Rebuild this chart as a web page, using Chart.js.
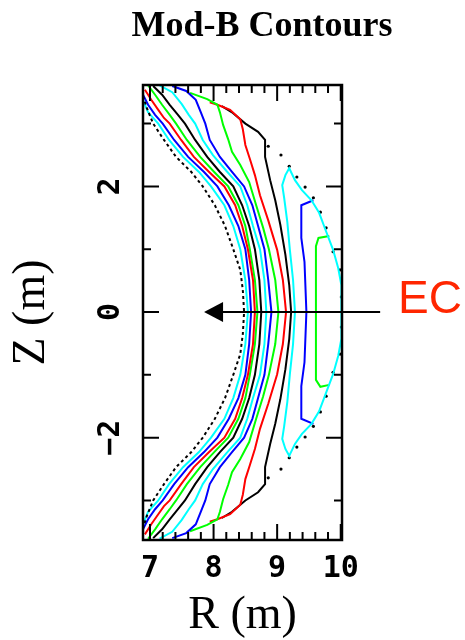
<!DOCTYPE html>
<html><head><meta charset="utf-8">
<script src="https://cdn.jsdelivr.net/npm/chart.js@4/dist/chart.umd.min.js"></script>
<style>html,body{margin:0;padding:0;background:#fff}canvas{display:block}</style>
</head><body>
<canvas id="c" width="465" height="640"></canvas>
<script>
// ---- tick values ----
const xTickValues = [7, 8, 9, 10];
const yTickValues = [-2, 0, 2];
const xMinorTicks = [7.0,7.2,7.4,7.6,7.8,8.0,8.2,8.4,8.6,8.8,9.0,9.2,9.4,9.6,9.8,10.0];
const yMinorTicks = [-3,-2,-1,0,1,2,3];

// ---- contour lines (R, Z) in metres ----
const innerBoundary = [[6.89,3.44],[6.95,3.25],[7.05,3.0],[7.22,2.74],[7.41,2.47],[7.65,2.23],[7.83,2.0],[8.02,1.70],[8.18,1.37],[8.31,1.0],[8.42,0.67],[8.46,0.35],[8.48,0],[8.46,-0.35],[8.42,-0.67],[8.31,-1.0],[8.18,-1.37],[8.02,-1.70],[7.83,-2.0],[7.65,-2.23],[7.41,-2.47],[7.22,-2.74],[7.05,-3.0],[6.95,-3.25],[6.89,-3.44]];
const cyan1 = [[6.89,3.38],[6.97,3.18],[7.13,3.0],[7.30,2.74],[7.52,2.47],[7.77,2.23],[7.96,2.0],[8.17,1.70],[8.31,1.37],[8.42,1.0],[8.50,0.51],[8.54,0],[8.50,-0.51],[8.42,-1.0],[8.31,-1.37],[8.17,-1.70],[7.96,-2.0],[7.77,-2.23],[7.52,-2.47],[7.30,-2.74],[7.13,-3.0],[6.97,-3.18],[6.89,-3.38]];
const blue1 = [[6.89,3.46],[6.97,3.30],[7.08,3.14],[7.20,3.0],[7.38,2.74],[7.60,2.47],[7.85,2.23],[8.06,2.0],[8.24,1.70],[8.39,1.37],[8.50,1.0],[8.56,0.51],[8.59,0],[8.56,-0.51],[8.50,-1.0],[8.39,-1.37],[8.24,-1.70],[8.06,-2.0],[7.85,-2.23],[7.60,-2.47],[7.38,-2.74],[7.20,-3.0],[7.08,-3.14],[6.97,-3.30],[6.89,-3.46]];
const red1 = [[6.92,3.54],[7.02,3.38],[7.13,3.22],[7.22,3.09],[7.31,3.0],[7.49,2.74],[7.69,2.47],[7.93,2.23],[8.17,2.0],[8.34,1.70],[8.45,1.37],[8.54,1.0],[8.62,0.51],[8.65,0],[8.62,-0.51],[8.54,-1.0],[8.45,-1.37],[8.34,-1.70],[8.17,-2.0],[7.93,-2.23],[7.69,-2.47],[7.49,-2.74],[7.31,-3.0],[7.22,-3.09],[7.13,-3.22],[7.02,-3.38],[6.92,-3.54]];
const green1 = [[6.97,3.61],[7.08,3.46],[7.19,3.30],[7.31,3.14],[7.41,3.0],[7.58,2.74],[7.79,2.47],[8.01,2.23],[8.23,2.0],[8.39,1.70],[8.50,1.37],[8.57,1.0],[8.65,0.51],[8.69,0],[8.65,-0.51],[8.57,-1.0],[8.50,-1.37],[8.39,-1.70],[8.23,-2.0],[8.01,-2.23],[7.79,-2.47],[7.58,-2.74],[7.41,-3.0],[7.31,-3.14],[7.19,-3.30],[7.08,-3.46],[6.97,-3.61]];
const black1 = [[7.05,3.60],[7.19,3.46],[7.31,3.30],[7.44,3.14],[7.55,3.0],[7.71,2.74],[7.90,2.47],[8.10,2.23],[8.31,2.0],[8.45,1.70],[8.56,1.37],[8.65,1.0],[8.72,0.51],[8.75,0],[8.72,-0.51],[8.65,-1.0],[8.56,-1.37],[8.45,-1.70],[8.31,-2.0],[8.10,-2.23],[7.90,-2.47],[7.71,-2.74],[7.55,-3.0],[7.44,-3.14],[7.31,-3.30],[7.19,-3.46],[7.05,-3.60]];
const cyan2 = [[7.15,3.61],[7.35,3.50],[7.50,3.31],[7.61,3.14],[7.71,3.0],[7.83,2.74],[7.99,2.50],[8.20,2.25],[8.42,2.0],[8.53,1.70],[8.62,1.37],[8.73,1.0],[8.80,0.51],[8.83,0],[8.80,-0.51],[8.73,-1.0],[8.62,-1.37],[8.53,-1.70],[8.42,-2.0],[8.20,-2.25],[7.99,-2.50],[7.83,-2.74],[7.71,-3.0],[7.61,-3.14],[7.50,-3.31],[7.35,-3.50],[7.15,-3.61]];
const blue2 = [[7.35,3.60],[7.57,3.52],[7.72,3.38],[7.80,3.18],[7.87,3.0],[7.94,2.74],[8.10,2.47],[8.29,2.23],[8.48,2.0],[8.61,1.70],[8.70,1.37],[8.80,1.0],[8.86,0.51],[8.91,0],[8.86,-0.51],[8.80,-1.0],[8.70,-1.37],[8.61,-1.70],[8.48,-2.0],[8.29,-2.23],[8.10,-2.47],[7.94,-2.74],[7.87,-3.0],[7.80,-3.18],[7.72,-3.38],[7.57,-3.52],[7.35,-3.60]];
const green2 = [[7.63,3.49],[7.90,3.39],[8.06,3.30],[8.10,3.18],[8.15,2.98],[8.23,2.75],[8.29,2.55],[8.42,2.34],[8.56,2.07],[8.67,1.70],[8.78,1.34],[8.87,1.0],[8.97,0.51],[9.02,0],[8.97,-0.51],[8.87,-1.0],[8.78,-1.34],[8.67,-1.70],[8.56,-2.07],[8.42,-2.34],[8.29,-2.55],[8.23,-2.75],[8.15,-2.98],[8.10,-3.18],[8.06,-3.30],[7.90,-3.39],[7.63,-3.49]];
const red2 = [[7.94,3.34],[8.06,3.30],[8.26,3.22],[8.42,3.07],[8.46,2.91],[8.50,2.66],[8.57,2.44],[8.65,2.18],[8.73,1.86],[8.86,1.46],[9.00,0.99],[9.09,0.51],[9.14,0],[9.09,-0.51],[9.00,-0.99],[8.86,-1.46],[8.73,-1.86],[8.65,-2.18],[8.57,-2.44],[8.50,-2.66],[8.46,-2.91],[8.42,-3.07],[8.26,-3.22],[8.06,-3.30],[7.94,-3.34]];
const black2 = [[8.13,3.28],[8.29,3.18],[8.50,3.0],[8.70,2.87],[8.81,2.74],[8.81,2.47],[8.89,2.10],[8.97,1.78],[9.05,1.39],[9.13,0.91],[9.19,0.43],[9.22,0],[9.19,-0.43],[9.13,-0.91],[9.05,-1.39],[8.97,-1.78],[8.89,-2.10],[8.81,-2.47],[8.81,-2.74],[8.70,-2.87],[8.50,-3.0],[8.29,-3.18],[8.13,-3.28]];
const cyan3 = [[10.01,0],[10.01,0.43],[9.96,0.70],[9.88,0.99],[9.76,1.31],[9.66,1.58],[9.54,1.78],[9.39,1.94],[9.28,2.10],[9.19,2.29],[9.13,2.18],[9.08,2.02],[9.11,1.82],[9.16,1.43],[9.20,0.99],[9.25,0.51],[9.28,0],[9.25,-0.51],[9.20,-0.99],[9.16,-1.43],[9.11,-1.82],[9.08,-2.02],[9.13,-2.18],[9.19,-2.29],[9.28,-2.10],[9.39,-1.94],[9.54,-1.78],[9.66,-1.58],[9.76,-1.31],[9.88,-0.99],[9.96,-0.70],[10.01,-0.43],[10.01,0]];
const blue3 = [[9.57,1.78],[9.38,1.70],[9.38,1.18],[9.43,0.80],[9.46,0],[9.43,-0.80],[9.38,-1.18],[9.38,-1.70],[9.57,-1.78]];
const green3 = [[9.82,1.21],[9.65,1.18],[9.61,1.05],[9.61,0],[9.61,-1.08],[9.68,-1.19],[9.82,-1.16]];
const outerDots = [[8.86,2.64],[9.06,2.50],[9.19,2.32],[9.31,2.15],[9.44,1.99],[9.57,1.82],[9.68,1.59],[9.77,1.34],[9.88,0.96],[9.99,0.67],[10.01,0.24],[10.01,-0.24],[9.99,-0.67],[9.88,-0.96],[9.77,-1.34],[9.68,-1.59],[9.57,-1.82],[9.44,-1.99],[9.31,-2.15],[9.19,-2.32],[9.06,-2.50],[8.86,-2.64]];

const CYAN = '#00ffff', BLUE = '#0000ff', GREEN = '#00ff00', RED = '#ff0000', BLACK = '#000000';

function line(data, color, extra) {
  return Object.assign({
    data: data.map(p => ({x: p[0], y: p[1]})),
    borderColor: color, backgroundColor: color,
    borderWidth: 2, showLine: true, pointRadius: 0, fill: false, tension: 0
  }, extra || {});
}

const datasets = [
  line(innerBoundary, BLACK, {borderDash: [3, 3]}),
  line(cyan1, CYAN), line(blue1, BLUE), line(red1, RED), line(green1, GREEN), line(black1, BLACK),
  line(cyan2, CYAN), line(blue2, BLUE), line(green2, GREEN), line(red2, RED), line(black2, BLACK),
  line(cyan3, CYAN), line(blue3, BLUE), line(green3, GREEN),
  {data: outerDots.map(p => ({x: p[0], y: p[1]})), showLine: false, pointRadius: 1.6,
   pointBackgroundColor: BLACK, pointBorderWidth: 0, borderColor: BLACK}
];

const decor = {
  id: 'decor',
  afterDatasetsDraw(chart) {
    const {ctx, chartArea: a, scales: {x, y}} = chart;
    ctx.save();
    ctx.strokeStyle = '#000';
    ctx.lineWidth = 2;
    // inward tick marks
    xMinorTicks.forEach(v => {
      const px = x.getPixelForValue(v);
      const len = Math.abs(v - Math.round(v)) < 1e-6 ? 16 : 8;
      ctx.beginPath();
      ctx.moveTo(px, a.bottom); ctx.lineTo(px, a.bottom - len);
      ctx.moveTo(px, a.top); ctx.lineTo(px, a.top + len);
      ctx.stroke();
    });
    yMinorTicks.forEach(v => {
      const py = y.getPixelForValue(v);
      const len = v % 2 === 0 ? 16 : 8;
      ctx.beginPath();
      ctx.moveTo(a.left, py); ctx.lineTo(a.left + len, py);
      ctx.moveTo(a.right, py); ctx.lineTo(a.right - len, py);
      ctx.stroke();
    });
    // frame
    ctx.lineWidth = 2.5;
    ctx.strokeRect(a.left, a.top, a.right - a.left, a.bottom - a.top);
    // EC arrow
    const yz = y.getPixelForValue(0);
    const tip = x.getPixelForValue(7.85);
    const tail = x.getPixelForValue(10.62);
    ctx.lineWidth = 2;
    ctx.beginPath(); ctx.moveTo(tail, yz); ctx.lineTo(tip + 16, yz); ctx.stroke();
    ctx.fillStyle = '#000';
    ctx.beginPath(); ctx.moveTo(tip, yz); ctx.lineTo(tip + 19, yz - 10); ctx.lineTo(tip + 19, yz + 10); ctx.closePath(); ctx.fill();
    // EC label
    ctx.fillStyle = '#ff2600';
    ctx.font = '46px "Liberation Sans", Arial, sans-serif';
    ctx.textAlign = 'left'; ctx.textBaseline = 'middle';
    ctx.fillText('EC', 398, yz - 12);
    // title
    ctx.fillStyle = '#000';
    ctx.font = 'bold 36px "Liberation Serif", "Times New Roman", serif';
    ctx.textAlign = 'center';
    ctx.fillText('Mod-B Contours', 262, 27);
    ctx.restore();
  }
};

const tickFont = {family: '"DejaVu Sans Mono", monospace', weight: 'bold', size: 30, lineHeight: 1};
const titleFont = {family: '"Liberation Serif", "Times New Roman", serif', size: 46, lineHeight: 1};

new Chart(document.getElementById('c'), {
  type: 'scatter',
  data: {datasets},
  plugins: [decor],
  options: {
    responsive: false, animation: false, devicePixelRatio: 1,
    layout: {padding: {top: 85, right: 123, left: 0, bottom: 0}},
    plugins: {legend: {display: false}, tooltip: {enabled: false}, title: {display: false}},
    scales: {
      x: {
        type: 'linear', position: 'bottom', min: 6.89, max: 10.02,
        afterBuildTicks: s => { s.ticks = xTickValues.map(v => ({value: v})); },
        afterFit: s => { s.height = 100; },
        grid: {display: false, drawTicks: false}, border: {display: false},
        ticks: {font: tickFont, color: '#000', padding: 14, minRotation: 0, maxRotation: 0, autoSkip: false,
                callback: v => String(v)},
        title: {display: true, text: 'R (m)', font: titleFont, color: '#000', padding: {top: 0, bottom: 1}}
      },
      y: {
        type: 'linear', position: 'left', min: -3.63, max: 3.615,
        afterBuildTicks: s => { s.ticks = yTickValues.map(v => ({value: v})); },
        afterFit: s => { s.width = 143; },
        grid: {display: false, drawTicks: false}, border: {display: false},
        ticks: {font: tickFont, color: '#000', padding: 14, minRotation: 90, maxRotation: 90, crossAlign: 'center', autoSkip: false,
                callback: v => v < 0 ? '\u2212' + Math.abs(v) : String(v)},
        title: {display: true, text: 'Z (m)', font: titleFont, color: '#000', padding: {top: 9, bottom: 0}}
      }
    }
  }
});
</script>
</body></html>
